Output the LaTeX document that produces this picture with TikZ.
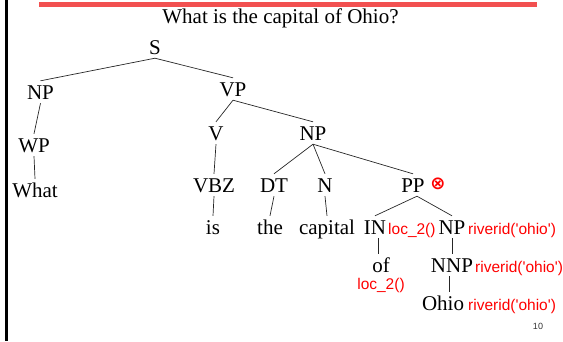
\documentclass[tikz,border=0pt]{standalone}
\usepackage{fontspec}
\setmainfont{Liberation Serif}
\newfontfamily\arialf{Liberation Sans}
\newfontfamily\dejavuf{DejaVu Sans}
\definecolor{barred}{RGB}{242,80,80}
\begin{document}
\begin{tikzpicture}[x=1pt,y=-1pt,
  tn/.style={inner xsep=1pt,inner ysep=4pt,text height=14pt,text depth=0pt,font=\fontsize{21}{25}\selectfont,anchor=center},
  sem/.style={text=red,inner sep=0pt,font=\arialf\fontsize{15.5}{18}\selectfont},
  edge/.style={line width=0.7pt,draw=black!85}]
\useasboundingbox (0,0) rectangle (563,341);
% frame elements
\fill[barred] (39,2.3) rectangle (537,6.8);
\draw[line width=2.5pt] (6.5,0) -- (6.5,341);
\node[font=\fontsize{21}{25}\selectfont,inner sep=0pt] (title) at (280.5,18) {What is the capital of Ohio?};
% tree nodes
\node[tn] (S) at (155,47) {S};
\node[tn] (NPa) at (40.5,92) {NP};
\node[tn] (VP) at (233,89) {VP};
\node[tn] (WP) at (34,145) {WP};
\node[tn] (What) at (35,190) {What};
\node[tn] (V) at (216,133) {V};
\node[tn] (NPb) at (313,133) {NP};
\node[tn] (VBZ) at (214,185) {VBZ};
\node[tn] (DT) at (274,185) {DT};
\node[tn] (N) at (325,185) {N};
\node[tn] (PP) at (413,185) {PP};
\node[tn] (is) at (213,227) {is};
\node[tn] (the) at (270,227) {the};
\node[tn] (capital) at (327,227) {capital};
\node[tn] (IN) at (375,227) {IN};
\node[tn] (NPc) at (452,227) {NP};
\node[tn] (of) at (381,265.5) {of};
\node[tn] (NNP) at (452,265) {NNP};
\node[tn] (Ohio) at (443,303) {Ohio};
% semantic annotations
\node[text=red,inner sep=0pt,font=\dejavuf\bfseries\fontsize{18}{20}\selectfont] (otimes) at (438,184) {⊗};
\node[sem,anchor=base west] (locIN) at (388,234) {loc\_2()};
\node[sem,anchor=base west] (rivNP) at (468,234) {riverid('ohio')};
\node[sem,anchor=base west] (rivNNP) at (475,272) {riverid('ohio')};
\node[sem,anchor=base west] (rivOhio) at (468,310) {riverid('ohio')};
\node[sem,anchor=base] (locof) at (381,289) {loc\_2()};
\node[inner sep=0pt,text=black!80,font=\arialf\fontsize{9}{11}\selectfont] (pagenum) at (538,326) {10};
% edges
\draw[edge] (S.south) -- (NPa.north);
\draw[edge] (S.south) -- (VP.north);
\draw[edge] (NPa.south) -- (WP.north);
\draw[edge] (WP.south) -- (What.north);
\draw[edge] (VP.south) -- (V.north);
\draw[edge] (VP.south) -- (NPb.north);
\draw[edge] (V.south) -- (VBZ.north);
\draw[edge] (NPb.south) -- (DT.north);
\draw[edge] (NPb.south) -- (N.north);
\draw[edge] (NPb.south) -- (PP.north);
\draw[edge] (VBZ.south) -- (is.north);
\draw[edge] (DT.south) -- (the.north);
\draw[edge] (N.south) -- (capital.north);
\draw[edge] ([xshift=4pt]PP.south) -- (IN.north);
\draw[edge] ([xshift=4pt]PP.south) -- (NPc.north);
\draw[edge] ([xshift=3pt]IN.south) -- ([xshift=-3pt]of.north);
\draw[edge] (NPc.south) -- (NNP.north);
\draw[edge] ([xshift=-3pt]NNP.south) -- ([xshift=6pt]Ohio.north);
\end{tikzpicture}
\end{document}
